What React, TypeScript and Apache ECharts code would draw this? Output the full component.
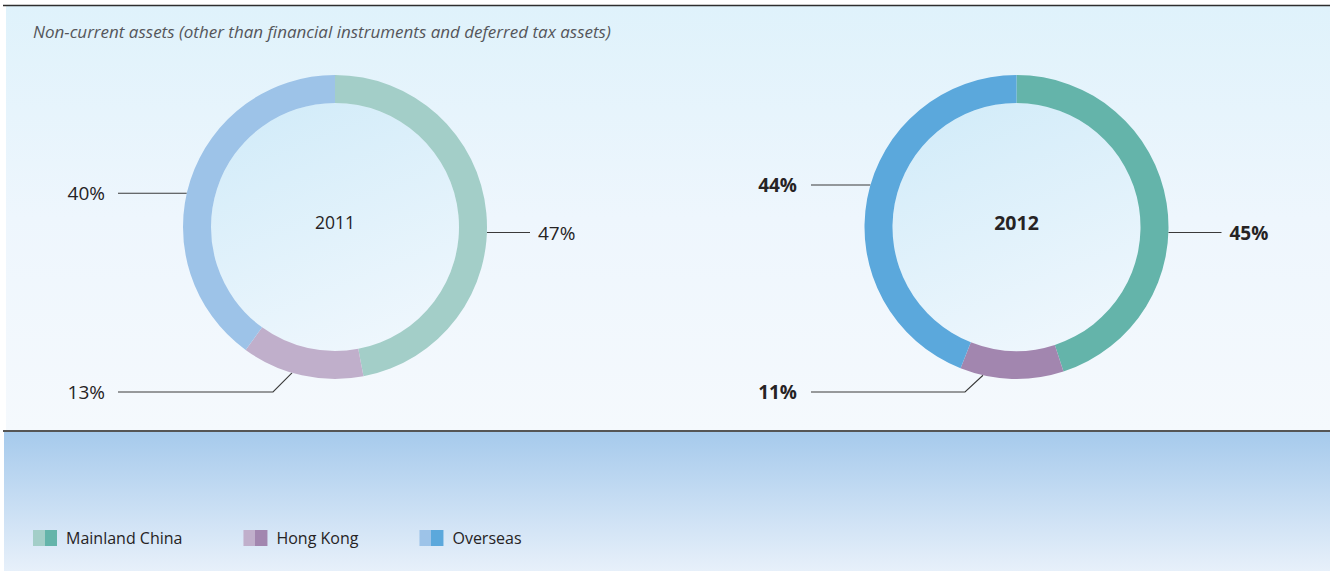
import React, { useEffect, useRef } from "react";
import * as echarts from "echarts";

// ---- data ----
const TITLE = "Non-current assets (other than financial instruments and deferred tax assets)";
const REGIONS = ["Mainland China", "Hong Kong", "Overseas"];
const YEARS = ["2011", "2012"];
const SHARE_2011 = [47, 13, 40];
const SHARE_2012 = [45, 11, 44];
const COLORS_2011 = ["#a3cec8", "#c0afcb", "#9dc3e8"];
const COLORS_2012 = ["#64b4aa", "#a286af", "#5ba8dc"];

// ---- layout ----
const W = 1330;
const H = 572;
const CY = 227;
const R_OUT = 152;
const R_IN = 124;
const CENTERS = [335, 1016.5];
const FONT = "'Open Sans', 'Noto Sans', sans-serif";
const TEXT_DARK = "#262324";

// label layout per pie / per region (relative to pie centre)
type Spec = { side: number; lineY: number; reach: number; text: number; ringX?: number; bendX?: number };
const LABEL_SPECS: Spec[][] = [
  [
    { side: 1, lineY: 232.5, reach: 195, text: 203 },
    { side: -1, lineY: 392, reach: 217, text: 230, ringX: 43, bendX: 62 },
    { side: -1, lineY: 193.3, reach: 217, text: 230 },
  ],
  [
    { side: 1, lineY: 232.5, reach: 205, text: 213 },
    { side: -1, lineY: 392, reach: 205.5, text: 219.5, ringX: 33.5, bendX: 51.5 },
    { side: -1, lineY: 185, reach: 205.5, text: 219.5 },
  ],
];

function labelLayoutFor(pieIdx: number) {
  const cx = CENTERS[pieIdx];
  return (params: any) => {
    const s = LABEL_SPECS[pieIdx][params.dataIndex];
    if (!s) return {};
    let pts: number[][];
    if (s.ringX != null && s.bendX != null) {
      const rx = cx + s.side * s.ringX;
      const ry = CY + Math.sqrt(R_OUT * R_OUT - s.ringX * s.ringX);
      pts = [[rx, ry], [cx + s.side * s.bendX, s.lineY], [cx + s.side * s.reach, s.lineY]];
    } else {
      const dy = s.lineY - CY;
      const rx = cx + s.side * Math.sqrt(R_OUT * R_OUT - dy * dy);
      pts = [[rx, s.lineY], [rx, s.lineY], [cx + s.side * s.reach, s.lineY]];
    }
    return {
      x: cx + s.side * s.text,
      y: s.lineY,
      align: s.side > 0 ? "left" : "right",
      verticalAlign: "middle",
      labelLinePoints: pts,
    };
  };
}

function ringSeries(idx: number, values: number[], colors: string[], bold: boolean) {
  return {
    type: "pie",
    name: YEARS[idx],
    center: [CENTERS[idx], CY],
    radius: [R_IN, R_OUT],
    startAngle: 90,
    clockwise: true,
    avoidLabelOverlap: false,
    silent: true,
    z: 3,
    data: REGIONS.map((name, i) => ({ name, value: values[i], itemStyle: { color: colors[i] } })),
    itemStyle: { borderWidth: 0 },
    label: {
      show: true,
      position: "outside",
      formatter: "{c}%",
      fontFamily: FONT,
      fontSize: 19,
      fontWeight: bold ? "bold" : "normal",
      color: TEXT_DARK,
    },
    labelLine: { show: true, length: 10, length2: 10, lineStyle: { color: "#3a3a3a", width: 1.1 } },
    labelLayout: labelLayoutFor(idx),
  };
}

function fillSeries(idx: number, bold: boolean) {
  return {
    type: "pie",
    name: YEARS[idx] + " centre",
    center: [CENTERS[idx], CY],
    radius: [0, R_IN],
    silent: true,
    z: 2,
    data: [
      {
        name: YEARS[idx],
        value: 1,
        itemStyle: {
          color: new echarts.graphic.LinearGradient(0.3, 0, 0.7, 1, [
            { offset: 0, color: "#d3ecf9" },
            { offset: 1, color: "#eff7fd" },
          ]),
        },
      },
    ],
    label: {
      show: true,
      position: "center",
      formatter: YEARS[idx],
      fontFamily: FONT,
      fontSize: bold ? 19.5 : 17.5,
      fontWeight: bold ? "bold" : "normal",
      color: TEXT_DARK,
      offset: [0, -5],
    },
    labelLine: { show: false },
  };
}

function splitSwatch(light: string, dark: string) {
  return new echarts.graphic.LinearGradient(0, 0, 1, 0, [
    { offset: 0, color: light },
    { offset: 0.5, color: light },
    { offset: 0.5, color: dark },
    { offset: 1, color: dark },
  ]);
}

export default function App() {
  const ref = useRef<HTMLDivElement>(null);
  useEffect(() => {
    if (!ref.current) return;
    const chart = echarts.init(ref.current, null, { renderer: "svg" });
    chart.setOption({
      animation: false,
      backgroundColor: "#ffffff",
      title: {
        text: TITLE,
        left: 33,
        top: 21,
        padding: 0,
        textStyle: {
          fontFamily: FONT,
          fontStyle: "italic",
          fontWeight: "normal",
          fontSize: 17,
          lineHeight: 20,
          color: "#55565a",
        },
      },
      legend: {
        left: 33,
        top: 528,
        padding: 0,
        icon: "rect",
        itemWidth: 24,
        itemHeight: 16,
        itemGap: 61,
        selectedMode: false,
        textStyle: { fontFamily: FONT, fontSize: 16, lineHeight: 20, color: TEXT_DARK, padding: [0, 0, 0, 4] },
        data: REGIONS.map((name, i) => ({
          name,
          itemStyle: { color: splitSwatch(COLORS_2011[i], COLORS_2012[i]) },
        })),
      },
      graphic: [
        {
          type: "rect",
          z: -10,
          silent: true,
          shape: { x: 6, y: 6, width: W - 6, height: 425 },
          style: {
            fill: new echarts.graphic.LinearGradient(0, 0, 0, 1, [
              { offset: 0, color: "#dff2fb" },
              { offset: 0.5, color: "#eef6fd" },
              { offset: 1, color: "#f5f9fd" },
            ]),
          },
        },
        {
          type: "rect",
          z: -10,
          silent: true,
          shape: { x: 4, y: 432, width: W - 4, height: 139 },
          style: {
            fill: new echarts.graphic.LinearGradient(0, 0, 0, 1, [
              { offset: 0, color: "#a6caec" },
              { offset: 1, color: "#e7f0fa" },
            ]),
          },
        },
        {
          type: "line",
          z: -5,
          silent: true,
          shape: { x1: 3, y1: 5.5, x2: W, y2: 5.5 },
          style: { stroke: "#2e2e2e", lineWidth: 1.5 },
        },
        {
          type: "line",
          z: -5,
          silent: true,
          shape: { x1: 3, y1: 431, x2: W, y2: 431 },
          style: { stroke: "#555555", lineWidth: 2 },
        },
      ],
      series: [
        fillSeries(0, false),
        fillSeries(1, true),
        ringSeries(0, SHARE_2011, COLORS_2011, false),
        ringSeries(1, SHARE_2012, COLORS_2012, true),
      ],
    });
    return () => chart.dispose();
  }, []);
  return <div ref={ref} style={{ position: "fixed", left: 0, top: 0, width: W, height: H }} />;
}
